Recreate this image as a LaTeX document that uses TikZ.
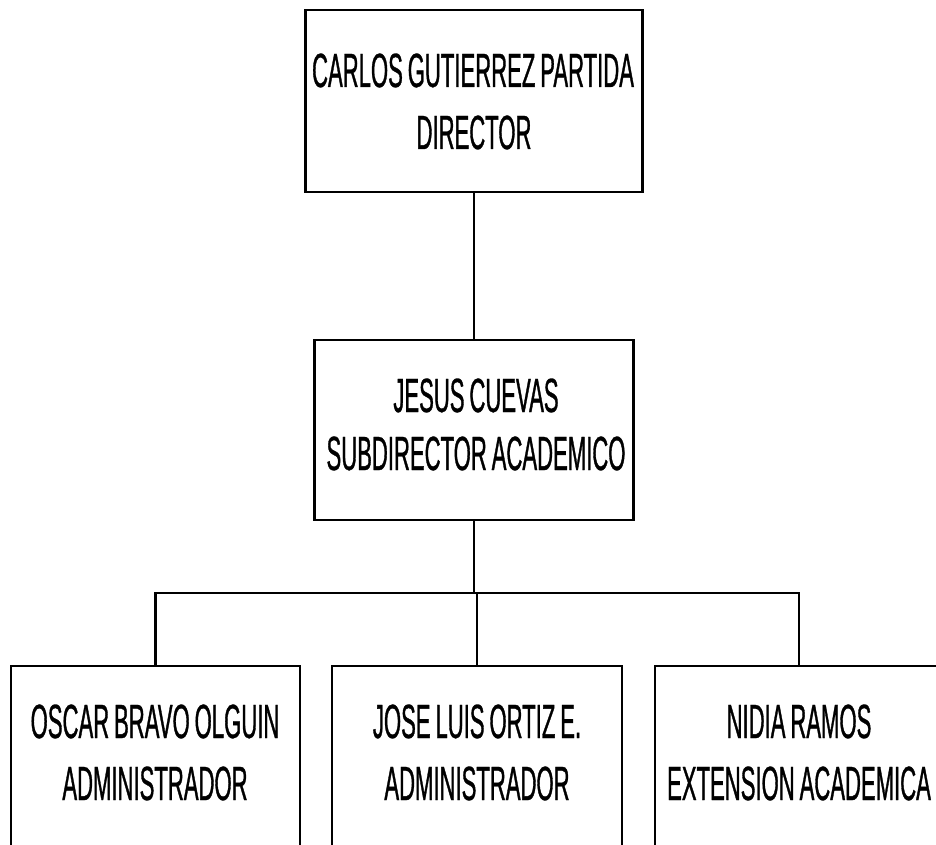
\documentclass[tikz,border=0pt]{standalone}
\usepackage{fontspec}
\newfontfamily\orgfont[FakeStretch=0.46,FakeBold=0.7,WordSpace=0.8]{Liberation Sans}
\begin{document}
\begin{tikzpicture}[x=1pt,y=-1pt,
  box/.style={draw=black,line width=2.4pt,fill=none,inner sep=0pt,outer sep=0pt},
  txt/.style={inner sep=0pt,anchor=base,font=\orgfont\fontsize{48}{60}\selectfont},
  link/.style={draw=black,line width=2.4pt}]
\useasboundingbox (0,0) rectangle (936,845);
\fill[white] (0,0) rectangle (936,845);
\clip (0,0) rectangle (936,845);
% boxes
\node[box,minimum width=337pt,minimum height=182pt] (top) at (474,101) {};
\node[box,minimum width=319pt,minimum height=180pt] (mid) at (474,430) {};
\node[box,minimum width=289pt,minimum height=240pt] (b1) at (155.5,786) {};
\node[box,minimum width=290pt,minimum height=240pt] (b2) at (477,786) {};
\node[box,minimum width=288pt,minimum height=240pt] (b3) at (799,786) {};
% texts
\node[txt] (t1) at (473,87) {CARLOS GUTIERREZ PARTIDA};
\node[txt] (t2) at (474,149) {DIRECTOR};
\node[txt] (m1) at (476,412) {JESUS CUEVAS};
\node[txt] (m2) at (476,470) {SUBDIRECTOR ACADEMICO};
\node[txt] (a1) at (155,738) {OSCAR BRAVO OLGUIN};
\node[txt] (a2) at (155,800) {ADMINISTRADOR};
\node[txt] (c1) at (477,738) {JOSE LUIS ORTIZ E.};
\node[txt] (c2) at (477,800) {ADMINISTRADOR};
\node[txt] (d1) at (799,738) {NIDIA RAMOS};
\node[txt] (d2) at (799,800) {EXTENSION ACADEMICA};
% connectors
\coordinate (bus) at (477,593);
\draw[link] (top.south) -- (mid.north);
\draw[link] (mid.south) |- (bus);
\draw[link] (bus) -- (b2.north);
\draw[link] (b1.north) |- (bus);
\draw[link] (b3.north) |- (bus);
\end{tikzpicture}
\end{document}
